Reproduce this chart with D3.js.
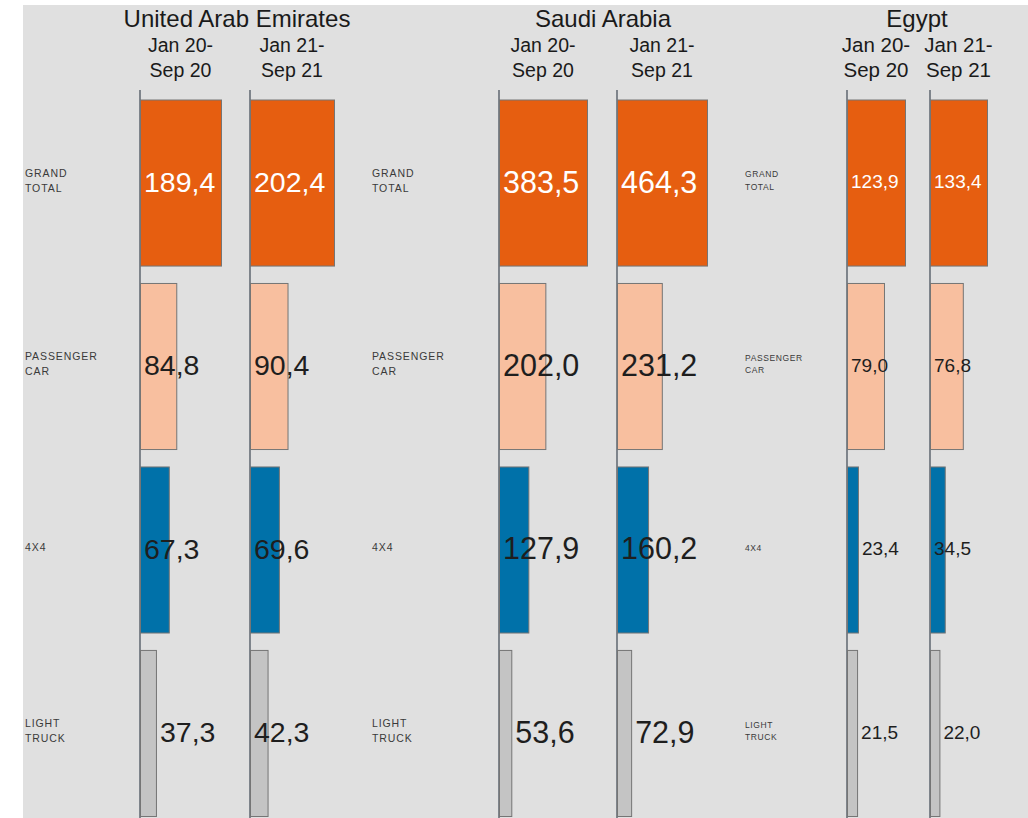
<!DOCTYPE html>
<html><head><meta charset="utf-8">
<script src="https://cdn.jsdelivr.net/npm/d3@7"></script>
<style>body{margin:0;background:#fff;}svg{display:block;font-family:"Liberation Sans",Arial,sans-serif;}</style>
</head><body><svg id="c" width="1028" height="818"></svg>
<script>
// ---- data ----
const countries = ["United Arab Emirates", "Saudi Arabia", "Egypt"];
const periodLines = [["Jan 20-", "Sep 20"], ["Jan 21-", "Sep 21"]];
const categories = ["GRAND TOTAL", "PASSENGER CAR", "4X4", "LIGHT TRUCK"];
const uaeJan20 = [189.4, 84.8, 67.3, 37.3];
const uaeJan21 = [202.4, 90.4, 69.6, 42.3];
const saudiJan20 = [383.5, 202.0, 127.9, 53.6];
const saudiJan21 = [464.3, 231.2, 160.2, 72.9];
const egyptJan20 = [123.9, 79.0, 23.4, 21.5];
const egyptJan21 = [133.4, 76.8, 34.5, 22.0];
const seriesByCountry = [[uaeJan20, uaeJan21], [saudiJan20, saudiJan21], [egyptJan20, egyptJan21]];

// ---- layout ----
const W = 1028, H = 818;
const panel = [
  {catX: 25, catFs: 10.5, catLs: 0.9, valFs: 28.5, hdrFs: 19.5, cols: [{x: 140, w: 81}, {x: 250, w: 84}]},
  {catX: 372, catFs: 10.5, catLs: 0.9, valFs: 30.5, hdrFs: 19.5, cols: [{x: 499, w: 88}, {x: 617, w: 90}]},
  {catX: 745, catFs: 8.5, catLs: 0.6, valFs: 19, hdrFs: 20.5, cols: [{x: 847, w: 58}, {x: 930, w: 57}]}
];
const colors = ["#E65E10", "#F8BF9F", "#0071A9", "#C4C4C4"];
const valColors = ["#ffffff", "#1e1e1e", "#1e1e1e", "#1e1e1e"];
const fmtLocale = d3.formatLocale({decimal: ",", thousands: ".", grouping: [3], currency: ["", ""]});
const fmt = fmtLocale.format(".1f");

const svg = d3.select("#c");
svg.append("rect").attr("x", 23).attr("y", 5).attr("width", W - 23).attr("height", H - 5).attr("fill", "#e0e0e0");

const y = d3.scaleBand().domain(categories).range([99.5, 816]).paddingInner(0.095).paddingOuter(0);

panel.forEach((p, pi) => {
  const g = svg.append("g");
  const left = p.cols[0].x, right = p.cols[1].x + p.cols[1].w;
  // country title
  g.append("text").attr("x", (left + right) / 2).attr("y", 27).attr("text-anchor", "middle")
    .attr("font-size", 24).attr("fill", "#1a1a1a").text(countries[pi]);
  // category labels
  categories.forEach(cat => {
    const words = cat.split(" ");
    const cy = y(cat) + y.bandwidth() / 2 - 2;
    const lh = p.catFs * 1.45;
    const t = g.append("text").attr("font-size", p.catFs).attr("fill", "#3a3a3a")
      .attr("letter-spacing", p.catLs);
    words.forEach((w, i) => {
      t.append("tspan").attr("x", p.catX)
        .attr("y", cy + (i - (words.length - 1) / 2) * lh + p.catFs * 0.36).text(w);
    });
  });
  p.cols.forEach((c, ci) => {
    const vals = seriesByCountry[pi][ci];
    const colMax = d3.max(vals);
    const x = d3.scaleLinear().domain([0, colMax]).range([c.x, c.x + c.w]);
    // header
    const hx = c.x + c.w / 2;
    g.append("text").attr("x", hx).attr("y", 52).attr("text-anchor", "middle")
      .attr("font-size", p.hdrFs).attr("fill", "#1a1a1a").text(periodLines[ci][0]);
    g.append("text").attr("x", hx).attr("y", 77).attr("text-anchor", "middle")
      .attr("font-size", p.hdrFs).attr("fill", "#1a1a1a").text(periodLines[ci][1]);
    // axis line
    g.append("line").attr("x1", c.x).attr("x2", c.x).attr("y1", 90).attr("y2", H)
      .attr("stroke", "#3d4753").attr("stroke-width", 1.2);
    // bars
    g.selectAll(null).data(vals).join("rect")
      .attr("x", x(0) + 0.5)
      .attr("y", (d, i) => y(categories[i]) + 0.5)
      .attr("width", d => x(d) - x(0))
      .attr("height", y.bandwidth())
      .attr("fill", (d, i) => colors[i])
      .attr("stroke", "#757575").attr("stroke-width", 1);
    // value labels
    g.selectAll(null).data(vals).join("text")
      .attr("x", d => d / colMax < 0.2 ? x(d) + 4 : x(0) + 4)
      .attr("y", (d, i) => y(categories[i]) + y.bandwidth() / 2 - 1)
      .attr("dy", "0.36em")
      .attr("font-size", p.valFs)
      .attr("fill", (d, i) => valColors[i])
      .text(d => fmt(d));
  });
});
</script></body></html>
